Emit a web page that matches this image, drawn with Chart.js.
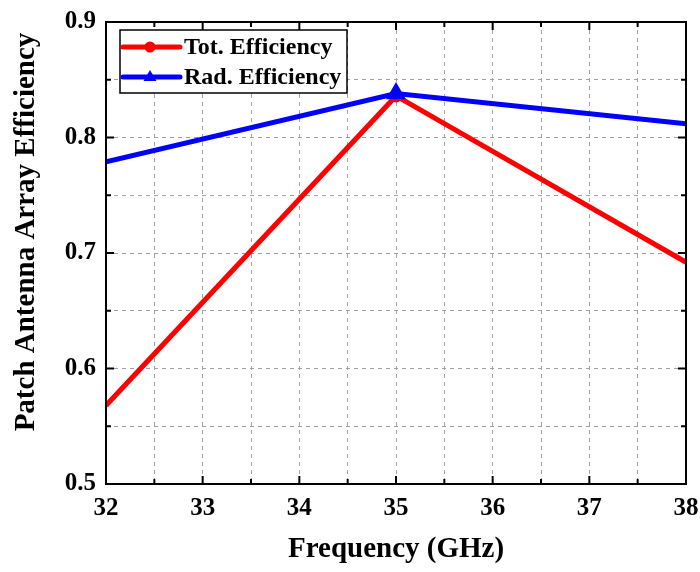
<!DOCTYPE html>
<html>
<head>
<meta charset="utf-8">
<script src="https://cdn.jsdelivr.net/npm/chart.js@4"></script>
<style>
  html, body { margin: 0; padding: 0; background: #fff; }
  #wrap { width: 700px; height: 572px; }
</style>
</head>
<body>
<div id="wrap"><canvas id="effChart" width="700" height="572"></canvas></div>
<script>
// ===== DATA =====
const freqGHz = [32, 35, 38];
const totEfficiency = [0.568, 0.836, 0.692];
const radEfficiency = [0.779, 0.838, 0.812];
const totMarker = [0, 4, 0];
const radMarker = [0, 6.5, 0];
const xRange = [32, 38];
const yRange = [0.5, 0.9];
const yTitle = 'Patch Antenna Array Efficiency';

const FONT = '"Liberation Serif", "Times New Roman", serif';

// frame + inward ticks on all four sides, y title
const framePlugin = {
    id: 'frame',
    afterDatasetsDraw(chart) {
        const { ctx, chartArea: a, scales } = chart;
        ctx.save();
        ctx.strokeStyle = '#000';
        ctx.lineWidth = 2;
        ctx.setLineDash([]);
        ctx.strokeRect(a.left, a.top, a.right - a.left, a.bottom - a.top);
        scales.x.ticks.forEach(t => {
            const px = scales.x.getPixelForValue(t.value);
            const len = Number.isInteger(t.value) ? 8 : 5;
            ctx.beginPath();
            ctx.moveTo(px, a.bottom); ctx.lineTo(px, a.bottom - len);
            ctx.moveTo(px, a.top); ctx.lineTo(px, a.top + len);
            ctx.stroke();
        });
        scales.y.ticks.forEach(t => {
            const py = scales.y.getPixelForValue(t.value);
            const major = Math.abs(t.value * 10 - Math.round(t.value * 10)) < 1e-6;
            const len = major ? 8 : 5;
            ctx.beginPath();
            ctx.moveTo(a.left, py); ctx.lineTo(a.left + len, py);
            ctx.moveTo(a.right, py); ctx.lineTo(a.right - len, py);
            ctx.stroke();
        });
        // y axis title sits a bit above the plot's middle
        ctx.translate(27, 232);
        ctx.rotate(-Math.PI / 2);
        ctx.font = 'bold 29px ' + FONT;
        ctx.fillStyle = '#000';
        ctx.textAlign = 'center';
        ctx.textBaseline = 'middle';
        ctx.fillText(yTitle, 0, 0);
        ctx.restore();
    }
};

// boxed legend: line sample with marker, then label
const legendPlugin = {
    id: 'boxLegend',
    afterDraw(chart) {
        const { ctx } = chart;
        const x0 = 120, y0 = 30, w = 227, h = 63;
        ctx.save();
        ctx.fillStyle = '#fff';
        ctx.fillRect(x0, y0, w, h);
        ctx.strokeStyle = '#000';
        ctx.lineWidth = 1.5;
        ctx.strokeRect(x0, y0, w, h);
        ctx.font = 'bold 24px ' + FONT;
        ctx.textBaseline = 'middle';
        chart.data.datasets.forEach((ds, i) => {
            const cy = y0 + 17 + i * 30;
            ctx.strokeStyle = ds.borderColor;
            ctx.lineWidth = 5;
            ctx.lineCap = 'round';
            ctx.beginPath();
            ctx.moveTo(x0 + 3, cy); ctx.lineTo(x0 + 60, cy);
            ctx.stroke();
            ctx.fillStyle = ds.borderColor;
            const mx = x0 + 30;
            if (ds.pointStyle === 'triangle') {
                ctx.beginPath();
                ctx.moveTo(mx, cy - 7); ctx.lineTo(mx + 6.5, cy + 4); ctx.lineTo(mx - 6.5, cy + 4);
                ctx.closePath(); ctx.fill();
            } else {
                ctx.beginPath(); ctx.arc(mx, cy, 5.5, 0, Math.PI * 2); ctx.fill();
            }
            ctx.fillStyle = '#000';
            ctx.fillText(ds.label, x0 + 64, cy + 1);
        });
        ctx.restore();
    }
};

const tickFont = { family: FONT, size: 25, weight: 'bold' };
const titleFont = { family: FONT, size: 29, weight: 'bold' };

new Chart(document.getElementById('effChart'), {
    type: 'line',
    data: {
        datasets: [
            {
                label: 'Tot. Efficiency',
                data: freqGHz.map((f, i) => ({ x: f, y: totEfficiency[i] })),
                borderColor: '#ff0000',
                backgroundColor: '#ff0000',
                borderWidth: 5,
                pointStyle: 'circle',
                pointRadius: totMarker,
                order: 1,
                tension: 0
            },
            {
                label: 'Rad. Efficiency',
                data: freqGHz.map((f, i) => ({ x: f, y: radEfficiency[i] })),
                borderColor: '#0000ff',
                backgroundColor: '#0000ff',
                borderWidth: 5,
                pointStyle: 'triangle',
                pointRadius: radMarker,
                order: 0,
                tension: 0
            }
        ]
    },
    options: {
        responsive: false,
        animation: false,
        layout: { padding: { left: 0, top: 22, right: 14, bottom: 0 } },
        plugins: { legend: { display: false }, tooltip: { enabled: false } },
        scales: {
            x: {
                type: 'linear',
                min: xRange[0], max: xRange[1],
                afterFit: s => { s.height = 88; s.paddingLeft = 0; s.paddingRight = 0; },
                ticks: {
                    stepSize: 0.5,
                    autoSkip: false,
                    maxRotation: 0,
                    padding: 10,
                    color: '#000',
                    font: tickFont,
                    callback: v => Number.isInteger(v) ? String(v) : ''
                },
                grid: { color: '#a0a0a0', lineWidth: 1, drawTicks: false },
                border: { display: false, dash: [4, 4] },
                title: { display: true, text: 'Frequency (GHz)', color: '#000', font: titleFont, padding: { top: 14, bottom: 5 } }
            },
            y: {
                min: yRange[0], max: yRange[1],
                afterFit: s => { s.width = 106; s.paddingTop = 0; s.paddingBottom = 0; },
                ticks: {
                    stepSize: 0.05,
                    autoSkip: false,
                    padding: 10,
                    color: '#000',
                    font: tickFont,
                    callback: v => {
                        const r = Math.round(v * 100) / 100;
                        return Math.abs(r * 10 - Math.round(r * 10)) < 1e-6 ? r.toFixed(1) : '';
                    }
                },
                grid: { color: '#a0a0a0', lineWidth: 1, drawTicks: false },
                border: { display: false, dash: [4, 4] },
                title: { display: false }
            }
        }
    },
    plugins: [framePlugin, legendPlugin]
});
</script>
</body>
</html>
